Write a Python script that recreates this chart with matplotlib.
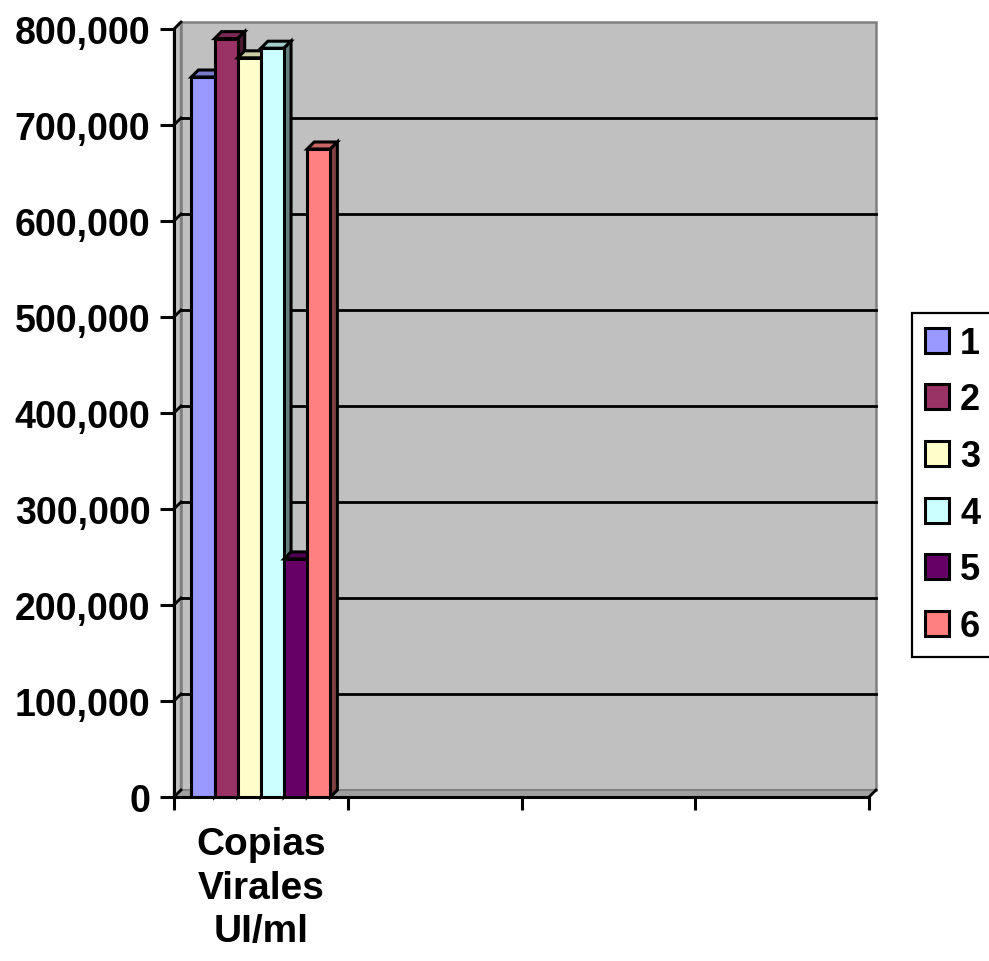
import matplotlib
matplotlib.use('Agg')
import matplotlib.pyplot as plt
import numpy as np
from matplotlib.patches import Polygon
from matplotlib.colors import to_rgb
from matplotlib.ticker import FuncFormatter, FixedLocator
from matplotlib.transforms import IdentityTransform

plt.rcParams['font.family'] = ['Liberation Sans', 'DejaVu Sans']
plt.rcParams['font.weight'] = 'bold'

# data
categories = ['Copias\nVirales\nUI/ml', '', '', '']
series_names = ['1', '2', '3', '4', '5', '6']
values = [750000, 790000, 770000, 780000, 248000, 675000]
colors = ['#9999FF', '#993366', '#FFFFCC', '#CCFFFF', '#660066', '#FF8080']
y_ticks = [0, 100000, 200000, 300000, 400000, 500000, 600000, 700000, 800000]

W, H = 989, 962
fig = plt.figure(figsize=(W / 100, H / 100), dpi=100)
ax = fig.add_axes([174 / W, 1 - 798 / H, 695 / W, 768 / H])
ax.set_xlim(0, len(categories))
ax.set_ylim(0, y_ticks[-1])
ax.patch.set_visible(False)
ax.spines['top'].set_visible(False)
ax.spines['right'].set_visible(False)
ax.spines['left'].set_linewidth(2.2)
ax.spines['bottom'].set_linewidth(2.2)

DX, DY = 7, 7  # depth in pixels


def shade(c, f):
    r, g, b = to_rgb(c)
    return (r * f, g * f, b * f)


def disp(pts, back=False):
    p = ax.transData.transform(np.array(pts, dtype=float))
    if back:
        p = p + np.array([DX, DY])
    return p


def poly(pts, **kw):
    ax.add_patch(Polygon(pts, closed=True, transform=IdentityTransform(), clip_on=False, **kw))


def seg(a, b, **kw):
    ax.plot([a[0], b[0]], [a[1], b[1]], transform=IdentityTransform(), clip_on=False, **kw)


x0, x1 = 0, len(categories)
y0, y1 = 0, y_ticks[-1]

# back wall
wall = disp([(x0, y0), (x1, y0), (x1, y1), (x0, y1)], back=True)
poly(wall, facecolor='#C0C0C0', edgecolor='#808080', lw=1.8, zorder=0)
# side wall
f = disp([(x0, y0), (x0, y1)])
b = disp([(x0, y0), (x0, y1)], back=True)
poly([f[0], f[1], b[1], b[0]], facecolor='#C0C0C0', edgecolor='#808080', lw=1.8, zorder=0.5)
# floor
f = disp([(x0, y0), (x1, y0)])
b = disp([(x0, y0), (x1, y0)], back=True)
poly([f[0], f[1], b[1], b[0]], facecolor='#A0A0A0', edgecolor='#808080', lw=1.5, zorder=0.5)

# gridlines on the wall, plus little diagonals from the axis
for yv in y_ticks:
    g = disp([(x0, yv), (x1, yv)], back=True)
    s = disp([(x0, yv)])[0]
    if 0 < yv < y_ticks[-1]:
        seg(g[0], g[1], color='black', lw=2, zorder=1)
    seg(s, g[0], color='black', lw=2, zorder=1)
s = disp([(x1, 0)])[0]
g = disp([(x1, 0)], back=True)[0]
seg(s, g, color='black', lw=2, zorder=1)

# bars
n = len(values)
group = 0.8
w = group / n
handles = []
for i, (v, c) in enumerate(zip(values, colors)):
    left = 0.5 - group / 2 + i * w
    z = 2 + i
    top_f = disp([(left, v), (left + w, v)])
    top_b = disp([(left, v), (left + w, v)], back=True)
    poly([top_f[0], top_f[1], top_b[1], top_b[0]], facecolor=shade(c, 0.8),
         edgecolor='black', lw=2.2, zorder=z)
    side_f = disp([(left + w, 0), (left + w, v)])
    side_b = disp([(left + w, 0), (left + w, v)], back=True)
    poly([side_f[0], side_f[1], side_b[1], side_b[0]], facecolor=shade(c, 0.5),
         edgecolor='black', lw=2.2, zorder=z)
    h = ax.bar(left, v, width=w, align='edge', color=c, edgecolor='black',
               linewidth=2.2, zorder=z + 0.5, label=series_names[i])
    handles.append(h)

# axes ticks
ax.yaxis.set_major_locator(FixedLocator(y_ticks))
ax.yaxis.set_major_formatter(FuncFormatter(lambda v, p: f'{v:,.0f}'))
ax.tick_params(axis='y', direction='out', length=10, width=2.2, labelsize=27, pad=7)
ax.set_xticks(np.arange(0, len(categories) + 1))
ax.set_xticklabels([])
ax.set_xticks(np.arange(len(categories)) + 0.5, minor=True)
ax.set_xticklabels(categories, minor=True, fontsize=28, fontweight='bold', linespacing=1.27)
ax.tick_params(axis='x', which='major', direction='out', length=9, width=2.2)
ax.tick_params(axis='x', which='minor', length=0, pad=21)
for t in ax.get_yticklabels():
    t.set_fontweight('bold')

leg = ax.legend(handles=handles, labels=series_names, loc='center left',
                bbox_to_anchor=(912 / W, 1 - 486 / H), bbox_transform=fig.transFigure,
                fontsize=26, frameon=True, fancybox=False, edgecolor='black', framealpha=1,
                handlelength=0.68, handleheight=0.68, handletextpad=0.3,
                labelspacing=0.6, borderpad=0.35, borderaxespad=0)
leg.get_frame().set_linewidth(1.6)
for t in leg.get_texts():
    t.set_fontweight('bold')
for p in leg.get_patches():
    p.set_linewidth(2.2)

fig.savefig('out.png', dpi=100)
